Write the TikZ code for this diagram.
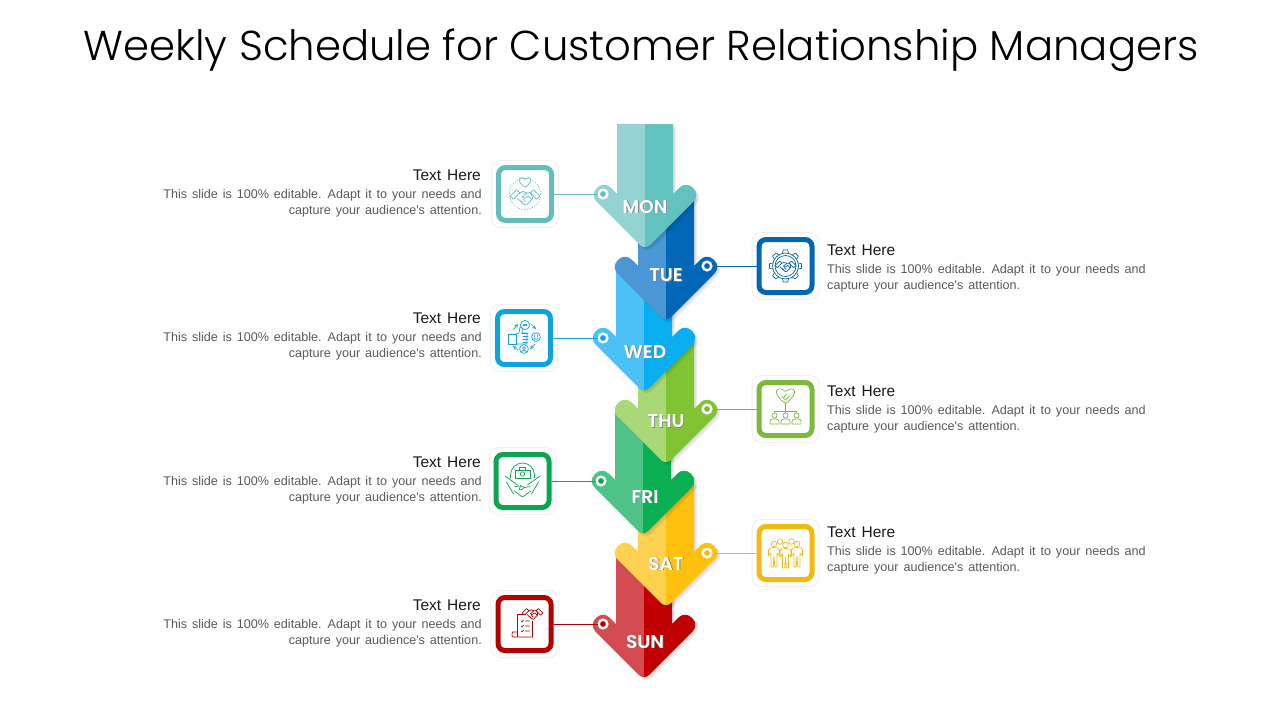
\documentclass[tikz,border=0pt]{standalone}
\usepackage{fontspec}
\setmainfont{Liberation Sans}
\newfontfamily\notefont{Liberation Sans}[WordSpace=1.4]
\newfontfamily\titlefont{Poppins Light}
\newfontfamily\dayfont{Poppins SemiBold}
\definecolor{monl}{HTML}{93D4D2}\definecolor{mond}{HTML}{62C2BF}\definecolor{monb}{HTML}{64BDBA}
\definecolor{tuel}{HTML}{4B97D6}\definecolor{tued}{HTML}{0367B8}\definecolor{tueb}{HTML}{0466B0}
\definecolor{wedl}{HTML}{4BC1F5}\definecolor{wedd}{HTML}{08AEEF}\definecolor{wedb}{HTML}{0FA3DC}
\definecolor{thul}{HTML}{ABD876}\definecolor{thud}{HTML}{80C434}\definecolor{thub}{HTML}{7DB83C}
\definecolor{fril}{HTML}{4FC387}\definecolor{frid}{HTML}{0AAE53}\definecolor{frib}{HTML}{0AA650}
\definecolor{satl}{HTML}{FFD150}\definecolor{satd}{HTML}{FFC10E}\definecolor{satb}{HTML}{F2B912}
\definecolor{sunl}{HTML}{D44B52}\definecolor{sund}{HTML}{C00000}\definecolor{sunb}{HTML}{B30000}
\tikzset{
  headtext/.style={font=\notefont\fontsize{15.5}{18}\selectfont,text=black!90,inner sep=0pt},
  bodytext/.style={font=\notefont\fontsize{12.6}{16}\selectfont,text=black!65,inner sep=0pt},
  daylabel/.style={font=\dayfont\fontsize{18.5}{20}\selectfont,text=white,inner sep=0pt},
  dotring/.style={circle,draw=white,line width=2.4,minimum size=8.6,inner sep=0pt},
  framebox/.style={draw=#1,line width=5,fill=white,rounded corners=7,minimum size=53,inner sep=0pt},
  backbox/.style={draw=black!6,line width=1,fill=white,rounded corners=9,minimum size=67,inner sep=0pt},
  iconline/.style={draw=#1,line width=.7,line join=round,line cap=round},
  linkline/.style={draw=#1,line width=1},
}
\newcommand{\arrowoutline}{(-28,-123) -- (-28,-53) [rounded corners=9] -- (-41,-66) -- (-55,-52) [rounded corners=7] -- (0,3) [rounded corners=9] -- (55,-52) -- (41,-66) [sharp corners] -- (28,-53) -- (28,-123) -- cycle}
\newcommand{\dayarrow}[6]{%
  \begin{scope}[shift={(#1,#2)}]
    \fill[black,opacity=.07] [shift={(3,3)}] \arrowoutline;
    \fill[black,opacity=.07] [shift={(1.5,1.5)}] \arrowoutline;
    \begin{scope}
      \clip \arrowoutline;
      \fill[#3] (-60,-130) rectangle (0,10);
      \fill[#4] (0,-130) rectangle (60,10);
    \end{scope}
    \node[dotring,fill=#5b] (#5dot) at (#6) {};
  \end{scope}}
\newcommand{\shadowtext}[1]{\rlap{\kern.9pt\raisebox{-.9pt}{\textcolor{black!50}{#1}}}#1}
\newcommand{\leftnote}[2]{%
  \node[headtext,anchor=east] (#1head) at (481,#2-19) {Text Here};
  \node[bodytext,anchor=north east,align=right] (#1note) at (482,#2-4.5) {This slide is 100\% editable. Adapt it to your needs and\\capture your audience's attention.};}
\newcommand{\rightnote}[2]{%
  \node[headtext,anchor=west] (#1head) at (827,#2-19) {Text Here};
  \node[bodytext,anchor=north west,align=left] (#1note) at (827,#2-4.5) {This slide is 100\% editable. Adapt it to your needs and\\capture your audience's attention.};}
\newcommand{\heartpath}{(0,4) .. controls (-9,-2) and (-6,-8) .. (0,-3.5) .. controls (6,-8) and (9,-2) .. (0,4) -- cycle}
\newcommand{\shakeicon}{%
  \draw[shift={(-10,-3)},rotate=-45] (-2.2,-4.5) rectangle (2.2,4.5);
  \draw[shift={(10,-3)},rotate=45] (-2.2,-4.5) rectangle (2.2,4.5);
  \draw (-6,-4) -- (-2,-6) -- (2,-4.5) -- (6,-5) -- (7.5,1) -- (1.5,7.5) -- (-1,7) -- (-7.5,1);
  \draw (2,-4.5) -- (-3,-.5) -- (-.5,.8) -- (3,-1.5) -- (7,2);
  \draw (-4.5,3) -- (-2,5.5) (-2,1.5) -- (1,4.5);}
\newcommand{\personicon}{%
  \draw (0,0) circle (2.6);
  \draw (-4.6,8.5) -- (-4.6,6) .. controls (-4.6,3.5) and (-3,3.5) .. (0,3.5) .. controls (3,3.5) and (4.6,3.5) .. (4.6,6) -- (4.6,8.5) -- cycle;}
\newcommand{\standicon}{%
  \draw (0,-9) circle (2.8);
  \draw (-3,14) -- (-3,0) -- (-5.5,3) -- (-5.5,-3) .. controls (-5.5,-5) and (-3,-5.5) .. (0,-5.5) .. controls (3,-5.5) and (5.5,-5) .. (5.5,-3) -- (5.5,3) -- (3,0) -- (3,14) -- (.8,14) -- (0,3) -- (-.8,14) -- cycle;}
\begin{document}
\begin{tikzpicture}[x=1pt,y=-1pt]
\useasboundingbox (0,0) rectangle (1280,720);
\node[inner sep=0pt,font=\titlefont\fontsize{41.8}{50}\selectfont,text=black] (title) at (641,50) {Weekly Schedule for Customer Relationship Managers};

\dayarrow{644}{677}{sunl}{sund}{sun}{-41,-53}
\dayarrow{666}{605}{satl}{satd}{sat}{41,-52}
\dayarrow{643}{533}{fril}{frid}{fri}{-42,-52}
\dayarrow{666}{462}{thul}{thud}{thu}{41,-53}
\dayarrow{644}{390}{wedl}{wedd}{wed}{-41,-52}
\dayarrow{666}{319}{tuel}{tued}{tue}{41,-53}
\dayarrow{645}{247}{monl}{mond}{mon}{-42,-53}

\node[daylabel] (monlabel) at (645,207) {\shadowtext{MON}};
\node[daylabel] (tuelabel) at (666,276) {\shadowtext{TUE}};
\node[daylabel] (wedlabel) at (645,352) {\shadowtext{WED}};
\node[daylabel] (thulabel) at (666,422) {\shadowtext{THU}};
\node[daylabel] (frilabel) at (645,497) {\shadowtext{FRI}};
\node[daylabel] (satlabel) at (666,564) {\shadowtext{SAT}};
\node[daylabel] (sunlabel) at (645,642) {\shadowtext{SUN}};

\foreach \boxname/\bx/\by in {mon/525/194,tue/785.5/266,wed/524/338,thu/785.5/409,fri/522.5/481,sat/785.5/553,sun/524.5/624}{
  \node[backbox] (\boxname back) at (\bx,\by) {};
  \node[framebox=\boxname b] (\boxname box) at (\bx,\by) {};
  \draw[linkline=\boxname b] (\boxname box) -- (\boxname dot);
}

\leftnote{mon}{194}
\rightnote{tue}{269}
\leftnote{wed}{337}
\rightnote{thu}{410}
\leftnote{fri}{481}
\rightnote{sat}{551}
\leftnote{sun}{624}

\begin{scope}[shift={(monbox.center)},every path/.style={iconline=monb}]
  \draw[dotted] (0,0) circle (15.5);
  \begin{scope}[shift={(0,-11)},scale=1.05] \draw \heartpath; \end{scope}
  \begin{scope}[shift={(0,3.5)}] \shakeicon \end{scope}
\end{scope}
\begin{scope}[shift={(tuebox.center)},every path/.style={iconline=tueb}]
  \draw (0,0) circle (10.5);
  \draw (0,0) circle (13);
  \foreach \a in {0,45,...,315}{\draw[rotate=\a] (-3,-13) -- (-2.2,-16) -- (2.2,-16) -- (3,-13);}
  \begin{scope}[shift={(0,.5)},scale=.7] \shakeicon \end{scope}
\end{scope}
\begin{scope}[shift={(wedbox.center)},every path/.style={iconline=wedb}]
  \draw (-16,-4) rectangle (-8,6);
  \draw (-8,-4) -- (-5,-5) -- (-4,-11) .. controls (-2,-12) and (-1,-9) .. (-2,-5) -- (3,-5) -- (3,6) -- (-8,6);
  \draw (-2,-5) -- (4,-5) (-1,-2) -- (4,-2) (-1,1) -- (4,1) (-1,4) -- (3,4);
  \draw (1,-13) circle (4.6);
  \draw (12,-1) circle (4.4);
  \draw (0,11) circle (4.4);
  \fill[wedb] (-.6,-13) circle (.6) (1,-13) circle (.6) (2.6,-13) circle (.6);
  \draw (10.5,-2.5) -- (10.5,-1.5) (13.5,-2.5) -- (13.5,-1.5) (10,.5) .. controls (11,1.5) and (13,1.5) .. (14,.5);
  \draw (0,10) circle (1.5) (-2.5,14) .. controls (-2,12) and (2,12) .. (2.5,14);
  \draw[->,>=stealth] (-11,-8) -- (-6,-14);
  \draw[->,>=stealth] (7,-14) -- (12,-9);
  \draw[->,>=stealth] (11,6) -- (6,11);
  \draw[->,>=stealth] (-6,12) -- (-11,8);
\end{scope}
\begin{scope}[shift={(thubox.center)},every path/.style={iconline=thub}]
  \begin{scope}[shift={(0,-12)},scale=1.6] \draw \heartpath; \end{scope}
  \draw (-4,-13) -- (0,-9) -- (4,-13) (-2,-11) -- (1,-15);
  \draw (0,-5.5) -- (0,3.5) (-11,3.5) -- (-11,2) -- (11,2) -- (11,3.5);
  \begin{scope}[shift={(-11,6.5)}] \personicon \end{scope}
  \begin{scope}[shift={(0,6.5)}] \personicon \end{scope}
  \begin{scope}[shift={(11,6.5)}] \personicon \end{scope}
\end{scope}
\begin{scope}[shift={(fribox.center)},every path/.style={iconline=frib}]
  \draw (-12,-6) arc (180:360:12);
  \draw (-12,-6) -- (-12,-3) (12,-6) -- (12,-3);
  \draw (-7.5,-11) rectangle (7.5,-3);
  \draw (-3,-11) -- (-3,-14) -- (3,-14) -- (3,-11);
  \draw (0,-7) circle (2.2);
  \draw (-17.5,-5) -- (-5,4) (17.5,-5) -- (5,4);
  \draw (-16,1) -- (-9,13) (16,1) -- (9,13);
  \begin{scope}[shift={(0,9)},scale=.85]
    \draw (-9,-4) -- (-2,-5) -- (2,-3) -- (9,-4) (-10,1) -- (-2,7) -- (0,8) -- (2,7) -- (10,1);
    \draw (-2,-5) -- (-4,-1) -- (-1,0) -- (2,-3);
  \end{scope}
\end{scope}
\begin{scope}[shift={(satbox.center)},every path/.style={iconline=satb}]
  \draw (-5.5,-11.5) circle (2.8) (6,-11.5) circle (2.8);
  \begin{scope}[shift={(-11.5,0)}] \standicon \end{scope}
  \begin{scope}[shift={(11.5,0)}] \standicon \end{scope}
  \begin{scope}[shift={(0,1)}] \standicon \end{scope}
\end{scope}
\begin{scope}[shift={(sunbox.center)},every path/.style={iconline=sunb}]
  \draw (-7,8) -- (-7,-10) -- (1,-10);
  \draw (8,-3) -- (8,13) -- (-11,13) .. controls (-13,13) and (-13,9) .. (-12,8) -- (-7,8) (-7,13) -- (-7,8);
  \draw (-3.5,-3) -- (-2.5,-2) -- (-1,-4) (1,-3) -- (5,-3);
  \draw (-3.5,2) -- (-2.5,3) -- (-1,1) (1,2) -- (5,2);
  \draw (-3.5,7) -- (-2.5,8) -- (-1,6) (1,7) -- (5,7);
  \begin{scope}[shift={(8,-10)},scale=.7] \shakeicon \end{scope}
\end{scope}
\end{tikzpicture}
\end{document}
